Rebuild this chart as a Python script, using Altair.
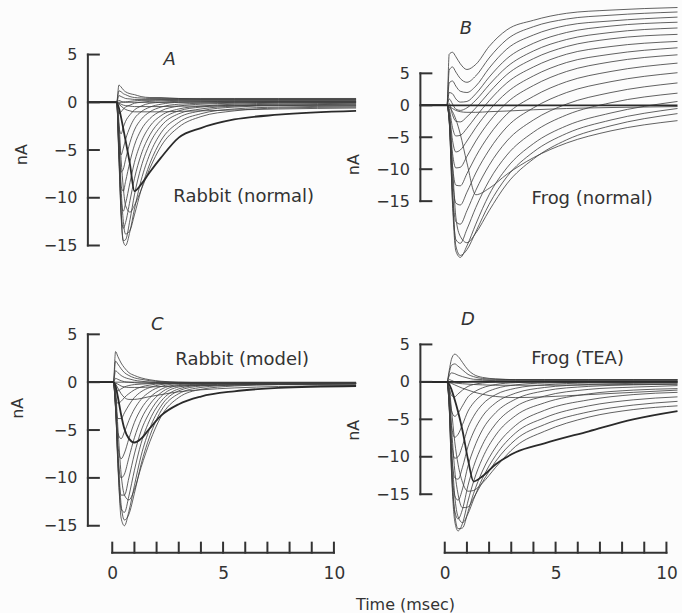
import altair as alt
import pandas as pd

# ------------------------------------------------------------------ data
YTICKS = [5, 0, -5, -10, -15]
XTICKS = [0, 5, 10]
XBRACKET = [0, 1, 2, 3, 4, 5, 6, 7, 8, 9, 10]

# Panel A : Rabbit (normal)
tA = [-1.1, 0.2, 0.3, 0.4, 0.5, 0.6, 0.8, 1.0, 1.3, 1.7, 2.2, 3.0, 4.0, 5.5, 7.5, 11.0]
A_tr = {
    "zero": [0, 0, 0, 0, 0, 0, 0, 0, 0, 0, 0, 0, 0, 0, 0, 0],
    "p1": [0, 0, 1.8, 1.6, 1.3, 1.1, 0.9, 0.8, 0.6, 0.5, 0.5, 0.4, 0.4, 0.4, 0.4, 0.4],
    "p2": [0, 0, 1.2, 1.1, 0.9, 0.8, 0.6, 0.5, 0.45, 0.4, 0.4, 0.4, 0.35, 0.35, 0.35, 0.35],
    "p3": [0, 0, 0.7, 0.6, 0.5, 0.4, 0.35, 0.3, 0.3, 0.3, 0.3, 0.3, 0.3, 0.3, 0.3, 0.3],
    "p4": [0, 0, 0.2, 0.1, 0.05, 0.05, 0.1, 0.15, 0.2, 0.2, 0.25, 0.25, 0.25, 0.25, 0.25, 0.25],
    "f1": [0, 0, -1.2, -1.0, -0.7, -0.5, -0.3, -0.1, 0.0, 0.1, 0.15, 0.2, 0.2, 0.2, 0.2, 0.2],
    "f2": [0, 0, -2.5, -3.3, -2.6, -2.0, -1.3, -0.8, -0.4, -0.1, 0.0, 0.1, 0.1, 0.1, 0.1, 0.1],
    "f3": [0, 0, -3.5, -5.5, -4.8, -3.9, -2.6, -1.7, -1.0, -0.5, -0.2, 0.0, 0.05, 0.1, 0.1, 0.1],
    "f4": [0, 0, -4.5, -7.3, -7.0, -6.0, -4.2, -2.9, -1.8, -1.0, -0.5, -0.2, -0.1, 0.0, 0.05, 0.05],
    "f5": [0, 0, -5.0, -8.8, -9.3, -8.3, -6.2, -4.5, -2.9, -1.7, -0.9, -0.4, -0.2, -0.1, 0.0, 0.0],
    "f6": [0, 0, -5.5, -10.3, -11.4, -10.6, -8.4, -6.3, -4.2, -2.5, -1.4, -0.7, -0.4, -0.2, -0.1, -0.05],
    "f7": [0, 0, -6.0, -11.5, -13.2, -12.6, -10.3, -8.0, -5.5, -3.4, -1.9, -0.9, -0.5, -0.3, -0.2, -0.1],
    "f8": [0, 0, -5.5, -12.0, -14.5, -14.4, -12.3, -9.7, -6.8, -4.3, -2.5, -1.2, -0.7, -0.4, -0.3, -0.2],
    "f9": [0, 0, -4.5, -11.5, -14.6, -15.0, -13.5, -11.2, -8.2, -5.4, -3.2, -1.6, -0.9, -0.5, -0.35, -0.3],
    "f10": [0, 0, -3.0, -9.0, -12.5, -13.8, -13.4, -11.8, -9.2, -6.4, -4.0, -2.1, -1.2, -0.7, -0.5, -0.4],
    "f11": [0, 0, -2.0, -6.0, -9.0, -10.8, -11.5, -10.8, -9.2, -6.9, -4.6, -2.6, -1.5, -0.9, -0.6, -0.5],
    "s1": [0, 0, -0.6, -1.6, -2.8, -4.0, -6.5, -9.3, -8.6, -7.3, -5.8, -3.7, -2.7, -1.8, -1.3, -0.9],
    "s2": [0, 0, -0.2, -0.4, -0.6, -0.75, -0.9, -1.0, -1.0, -1.0, -1.0, -0.95, -0.9, -0.8, -0.7, -0.6],
    "s3": [0, 0, -0.1, -0.2, -0.3, -0.35, -0.4, -0.45, -0.45, -0.45, -0.45, -0.4, -0.4, -0.35, -0.3, -0.3],
}
A_heavy = ["s1"]

# Panel B : Frog (normal)
tB = [-1.1, 0.1, 0.2, 0.35, 0.5, 0.7, 1.0, 1.4, 2.0, 2.8, 4.0, 5.5, 7.5, 10.5]
B_tr = {
    "zero": [0, 0, 0, 0, 0, 0, 0, 0, 0, 0, 0, 0, 0, 0],
    "P1": [0, 0, 8.0, 8.3, 7.6, 6.5, 5.6, 6.4, 9.2, 11.8, 13.3, 14.4, 14.9, 15.3],
    "P2": [0, 0, 5.5, 6.0, 5.2, 4.2, 3.6, 4.6, 7.4, 10.3, 12.3, 13.5, 14.1, 14.6],
    "P3": [0, 0, 3.5, 3.8, 3.0, 2.2, 2.0, 3.0, 5.8, 8.8, 11.0, 12.5, 13.2, 13.8],
    "P4": [0, 0, 2.0, 1.8, 1.0, 0.5, 0.6, 1.8, 4.4, 7.3, 9.7, 11.4, 12.4, 13.0],
    "P5": [0, 0, 1.0, 0.2, -0.6, -0.8, -0.4, 0.8, 3.2, 6.0, 8.5, 10.3, 11.4, 12.1],
    "P6": [0, 0, 0.3, -1.5, -2.5, -2.6, -1.8, -0.4, 2.0, 4.8, 7.3, 9.2, 10.4, 11.1],
    "P7": [0, 0, -0.5, -3.5, -4.8, -4.7, -3.6, -1.8, 0.7, 3.5, 6.0, 8.0, 9.2, 10.0],
    "P8": [0, 0, -1.0, -5.5, -7.3, -7.0, -5.6, -3.5, -0.8, 2.0, 4.6, 6.7, 8.0, 9.0],
    "P9": [0, 0, -1.5, -7.5, -9.8, -9.7, -8.0, -5.6, -2.6, 0.4, 3.1, 5.3, 6.8, 7.9],
    "P10": [0, 0, -2.0, -9.5, -12.5, -12.6, -10.7, -8.0, -4.7, -1.4, 1.4, 3.7, 5.3, 6.6],
    "P11": [0, 0, -2.3, -11.5, -15.3, -15.6, -13.6, -10.6, -7.0, -3.4, -0.4, 2.0, 3.7, 5.1],
    "P12": [0, 0, -2.5, -13.5, -18.2, -18.6, -16.5, -13.3, -9.4, -5.6, -2.3, 0.2, 2.0, 3.5],
    "P13": [0, 0, -2.5, -15.0, -21.0, -21.6, -19.4, -16.0, -11.8, -7.8, -4.2, -1.5, 0.4, 1.9],
    "P14": [0, 0, -2.3, -15.5, -22.8, -23.8, -22.0, -18.6, -14.0, -9.8, -6.0, -3.2, -1.2, 0.6],
    "P15": [0, 0, -1.8, -13.5, -22.0, -23.5, -22.6, -19.8, -15.5, -11.2, -7.3, -4.4, -2.3, -0.5],
    "P16": [0, 0, -1.2, -9.5, -17.5, -20.5, -21.5, -20.0, -16.5, -12.3, -8.4, -5.4, -3.2, -1.3],
    "b2": [0, 0, -0.3, -1.0, -2.2, -4.5, -9.0, -14.0, -13.0, -10.8, -8.2, -5.9, -4.0, -2.4],
    "b1": [0, 0, -0.2, -0.5, -0.8, -1.0, -1.1, -1.1, -1.0, -0.9, -0.7, -0.5, -0.35, -0.2],
}
B_heavy = ["zero"]

# Panel C : Rabbit (model)
tC = [-1.1, 0.05, 0.15, 0.25, 0.4, 0.55, 0.75, 1.0, 1.3, 1.7, 2.2, 3.0, 4.0, 5.5, 7.5, 11.0]
C_tr = {
    "zero": [0, 0, 0, 0, 0, 0, 0, 0, 0, 0, 0, 0, 0, 0, 0, 0],
    "p1": [0, 0, 3.2, 2.7, 2.0, 1.5, 1.0, 0.7, 0.45, 0.25, 0.1, 0.0, -0.05, -0.1, -0.1, -0.1],
    "p2": [0, 0, 2.2, 1.9, 1.4, 1.0, 0.7, 0.45, 0.3, 0.15, 0.05, -0.05, -0.1, -0.1, -0.1, -0.1],
    "p3": [0, 0, 1.2, 1.0, 0.7, 0.5, 0.35, 0.2, 0.1, 0.0, -0.05, -0.1, -0.1, -0.1, -0.1, -0.1],
    "p4": [0, 0, 0.4, 0.3, 0.15, 0.05, 0.0, -0.05, -0.1, -0.1, -0.1, -0.1, -0.1, -0.1, -0.1, -0.1],
    "f1": [0, 0, -0.8, -0.9, -0.7, -0.5, -0.35, -0.25, -0.2, -0.15, -0.1, -0.1, -0.1, -0.1, -0.1, -0.1],
    "f2": [0, 0, -1.6, -2.2, -2.0, -1.6, -1.2, -0.8, -0.5, -0.3, -0.15, -0.1, -0.1, -0.1, -0.1, -0.1],
    "f3": [0, 0, -2.2, -3.8, -3.8, -3.2, -2.4, -1.6, -1.0, -0.55, -0.25, -0.1, -0.1, -0.1, -0.1, -0.1],
    "f4": [0, 0, -2.6, -5.3, -5.9, -5.2, -4.0, -2.8, -1.8, -1.0, -0.45, -0.15, -0.1, -0.1, -0.1, -0.1],
    "f5": [0, 0, -2.8, -6.6, -8.0, -7.4, -5.9, -4.2, -2.8, -1.6, -0.75, -0.25, -0.15, -0.1, -0.1, -0.1],
    "f6": [0, 0, -2.8, -7.6, -10.0, -9.6, -7.9, -5.8, -3.9, -2.3, -1.1, -0.35, -0.2, -0.15, -0.1, -0.1],
    "f7": [0, 0, -2.6, -8.2, -11.8, -11.8, -10.0, -7.5, -5.1, -3.1, -1.5, -0.5, -0.25, -0.15, -0.15, -0.1],
    "f8": [0, 0, -2.3, -8.5, -13.2, -13.6, -11.9, -9.2, -6.4, -3.9, -2.0, -0.7, -0.3, -0.2, -0.15, -0.1],
    "f9": [0, 0, -1.9, -8.0, -14.2, -15.0, -13.5, -10.8, -7.7, -4.8, -2.5, -0.9, -0.4, -0.25, -0.2, -0.15],
    "f10": [0, 0, -1.4, -6.6, -12.8, -14.4, -13.8, -11.6, -8.6, -5.6, -3.0, -1.2, -0.55, -0.3, -0.2, -0.15],
    "f11": [0, 0, -0.9, -4.6, -9.6, -11.8, -12.3, -11.2, -8.9, -6.2, -3.6, -1.6, -0.75, -0.4, -0.25, -0.2],
    "s1": [0, 0, -0.4, -1.5, -3.4, -4.9, -5.9, -6.3, -5.9, -4.8, -3.5, -2.3, -1.5, -0.95, -0.6, -0.4],
    "s2": [0, 0, -0.2, -0.6, -1.2, -1.6, -1.8, -1.8, -1.7, -1.5, -1.3, -1.0, -0.8, -0.6, -0.45, -0.35],
    "s3": [0, 0, -0.1, -0.2, -0.4, -0.5, -0.55, -0.55, -0.55, -0.5, -0.45, -0.4, -0.35, -0.3, -0.25, -0.2],
}
C_heavy = ["s1"]

# Panel D : Frog (TEA)
tD = [-1.1, 0.1, 0.2, 0.3, 0.45, 0.6, 0.8, 1.05, 1.3, 1.7, 2.3, 3.2, 4.5, 6.5, 8.5, 10.5]
D_tr = {
    "zero": [0, 0, 0, 0, 0, 0, 0, 0, 0, 0, 0, 0, 0, 0, 0, 0],
    "p1": [0, 0, 1.5, 3.0, 3.7, 3.4, 2.6, 1.6, 1.0, 0.6, 0.4, 0.3, 0.3, 0.3, 0.3, 0.3],
    "p2": [0, 0, 1.2, 2.2, 2.4, 2.1, 1.6, 1.0, 0.7, 0.45, 0.35, 0.3, 0.3, 0.3, 0.3, 0.3],
    "p3": [0, 0, 0.8, 1.2, 1.1, 0.9, 0.7, 0.5, 0.35, 0.3, 0.25, 0.25, 0.25, 0.25, 0.25, 0.25],
    "p4": [0, 0, 0.3, 0.2, 0.0, -0.1, -0.05, 0.05, 0.1, 0.15, 0.2, 0.2, 0.2, 0.2, 0.2, 0.2],
    "f1": [0, 0, -0.8, -1.8, -2.0, -1.6, -1.1, -0.6, -0.35, -0.15, 0.0, 0.05, 0.1, 0.1, 0.1, 0.1],
    "f2": [0, 0, -1.5, -3.8, -4.6, -4.2, -3.2, -2.0, -1.4, -0.8, -0.35, -0.1, 0.0, 0.0, 0.0, 0.0],
    "f3": [0, 0, -2.2, -5.8, -7.4, -7.0, -5.7, -3.9, -2.8, -1.7, -0.9, -0.4, -0.15, -0.05, 0.0, 0.0],
    "f4": [0, 0, -2.8, -7.6, -10.2, -10.0, -8.5, -6.1, -4.6, -3.0, -1.7, -0.85, -0.4, -0.15, -0.1, -0.05],
    "f5": [0, 0, -3.2, -9.2, -12.8, -13.0, -11.4, -8.6, -6.7, -4.6, -2.8, -1.5, -0.75, -0.35, -0.2, -0.15],
    "f6": [0, 0, -3.4, -10.6, -15.2, -15.8, -14.3, -11.2, -9.0, -6.4, -4.1, -2.3, -1.2, -0.6, -0.4, -0.3],
    "f7": [0, 0, -3.4, -11.6, -17.2, -18.3, -17.0, -13.8, -11.3, -8.4, -5.6, -3.3, -1.9, -1.0, -0.7, -0.5],
    "f8": [0, 0, -3.0, -11.8, -18.6, -19.9, -18.9, -15.9, -13.3, -10.2, -7.1, -4.5, -2.8, -1.6, -1.1, -0.9],
    "f9": [0, 0, -2.4, -10.4, -17.6, -19.6, -19.5, -17.3, -14.9, -11.9, -8.7, -5.8, -3.8, -2.4, -1.7, -1.4],
    "f10": [0, 0, -1.8, -8.2, -15.2, -18.0, -18.8, -17.6, -15.7, -12.9, -9.8, -6.8, -4.8, -3.2, -2.4, -2.0],
    "f11": [0, 0, -1.2, -5.8, -11.8, -15.0, -16.8, -16.7, -15.5, -13.4, -10.6, -7.7, -5.7, -4.0, -3.1, -2.6],
    "f12": [0, 0, -0.8, -3.6, -8.0, -11.0, -13.4, -14.6, -14.5, -13.5, -11.4, -8.6, -6.6, -4.7, -3.7, -3.2],
    "s1": [0, 0, -0.3, -1.0, -2.4, -4.0, -6.5, -10.4, -13.3, -12.6, -11.0, -9.4, -8.2, -6.6, -5.0, -3.9],
    "s2": [0, 0, -0.1, -0.2, -0.4, -0.6, -0.85, -1.1, -1.35, -1.65, -1.95, -2.1, -2.0, -1.7, -1.4, -1.1],
    "s3": [0, 0, -0.05, -0.1, -0.15, -0.2, -0.25, -0.3, -0.35, -0.4, -0.45, -0.45, -0.45, -0.4, -0.35, -0.3],
}
D_heavy = ["zero", "s1"]

# ------------------------------------------------------------------ style
FONT = "DejaVu Sans"
INK = "#333333"
TRACE = "#3d3d3d"
BG = "#fcfcfc"


def long_table(t, traces, names):
    rows = []
    for name in names:
        for ti, v in zip(t, traces[name]):
            rows.append({"trace": name, "t": ti, "i": v})
    return pd.DataFrame(rows)


def panel(t, traces, heavy, xdom, ydom, w, h, letter, letter_pos, label,
          label_pos, title_xy, show_x):
    px_t = w / (xdom[1] - xdom[0])
    px_i = h / (ydom[1] - ydom[0])
    xs = alt.Scale(domain=xdom, nice=False, zero=False)
    ys = alt.Scale(domain=ydom, nice=False, zero=False)
    if show_x:
        xaxis = alt.Axis(values=XTICKS, domain=False, ticks=False, grid=False,
                         labelPadding=13, labelFontSize=17, labelColor=INK,
                         labelFont=FONT, labelFlush=False, title=None)
    else:
        xaxis = None
    yaxis = alt.Axis(values=YTICKS, domain=False, ticks=False, grid=False,
                     labelPadding=11, labelFontSize=16, labelColor=INK,
                     labelFont=FONT, labelFlush=False, title="nA",
                     titleFontSize=16, titleFontWeight="normal", titleColor=INK,
                     titleFont=FONT, titleX=title_xy[0], titleY=title_xy[1],
                     titleAngle=270, titleAlign="center", titleBaseline="middle")

    def X(f):
        return alt.X(f, type="quantitative", scale=xs, axis=xaxis)

    def Y(f):
        return alt.Y(f, type="quantitative", scale=ys, axis=yaxis)

    normal = [n for n in traces if n not in heavy]
    df_n = long_table(t, traces, normal)
    df_h = long_table(t, traces, heavy)

    lines = alt.Chart(df_n).mark_line(
        interpolate="monotone", color=TRACE, strokeWidth=0.9, opacity=0.9
    ).encode(x=X("t"), y=Y("i"), detail="trace:N")
    heavy_lines = alt.Chart(df_h).mark_line(
        interpolate="monotone", color="#2a2a2a", strokeWidth=1.8
    ).encode(x=X("t"), y=Y("i"), detail="trace:N")

    # y bracket (axis line with inward ticks)
    x0 = xdom[0]
    tick_t = 11 / px_t
    yb = [{"x": x0, "x2": x0, "y": min(YTICKS), "y2": max(YTICKS)}]
    yb += [{"x": x0, "x2": x0 + tick_t, "y": v, "y2": v} for v in YTICKS]
    ybr = alt.Chart(pd.DataFrame(yb)).mark_rule(
        color=INK, strokeWidth=2, strokeCap="square"
    ).encode(x=X("x"), x2="x2", y=Y("y"), y2="y2")

    layers = [lines, heavy_lines, ybr]

    if show_x:
        y0 = ydom[0]
        tick_i = 10 / px_i
        xb = [{"x": min(XBRACKET), "x2": max(XBRACKET), "y": y0, "y2": y0}]
        xb += [{"x": v, "x2": v, "y": y0, "y2": y0 + tick_i} for v in XBRACKET]
        xbr = alt.Chart(pd.DataFrame(xb)).mark_rule(
            color=INK, strokeWidth=2, strokeCap="square"
        ).encode(x=X("x"), x2="x2", y=Y("y"), y2="y2")
        layers.append(xbr)

    lt = alt.Chart(pd.DataFrame([{"x": letter_pos[0], "y": letter_pos[1], "s": letter}])
                   ).mark_text(font=FONT, fontSize=18, fontStyle="italic",
                               color=INK, align="center", baseline="middle"
                               ).encode(x=X("x"), y=Y("y"), text="s:N")
    lb = alt.Chart(pd.DataFrame([{"x": label_pos[0], "y": label_pos[1], "s": label}])
                   ).mark_text(font=FONT, fontSize=18, color=INK,
                               align="center", baseline="middle"
                               ).encode(x=X("x"), y=Y("y"), text="s:N")
    layers += [lt, lb]
    return alt.layer(*layers).properties(width=w, height=h)


W1, W2 = 268.6, 257.5
H1, H2 = 257, 247

pA = panel(tA, A_tr, A_heavy, [-1.1, 11.0], [-16.84, 10.04], W1, H1,
           "A", (2.59, 4.39), "Rabbit (normal)", (5.93, -9.94), (-66, 148), False)
pB = panel(tB, B_tr, B_heavy, [-1.1, 10.5], [-24.69, 15.47], W2, H1,
           "B", (0.95, 11.95), "Frog (normal)", (6.65, -14.6), (-67, 158), False)
pC = panel(tC, C_tr, C_heavy, [-1.1, 11.0], [-17.81, 7.96], W1, H2,
           "C", (2.03, 5.95), "Rabbit (model)", (5.86, 2.3), (-70, 102), True)
pD = panel(tD, D_tr, D_heavy, [-1.1, 10.5], [-22.8, 10.13], W2, H2,
           "D", (1.04, 8.27), "Frog (TEA)", (5.99, 3.0), (-67, 124), True)

chart = alt.concat(
    pA, pB, pC, pD, columns=2, bounds="flush",
    spacing={"row": 43, "column": 64},
).properties(
    padding={"left": 10, "top": 5, "right": 0, "bottom": 0},
    background=BG,
    title=alt.TitleParams(
        text="Time (msec)", orient="bottom", anchor="middle", font=FONT,
        fontSize=16, fontWeight="normal", color=INK, dx=60, offset=15,
    ),
).configure_view(stroke=None)

chart.save("out.html", embed_options={"renderer": "svg", "actions": False})
